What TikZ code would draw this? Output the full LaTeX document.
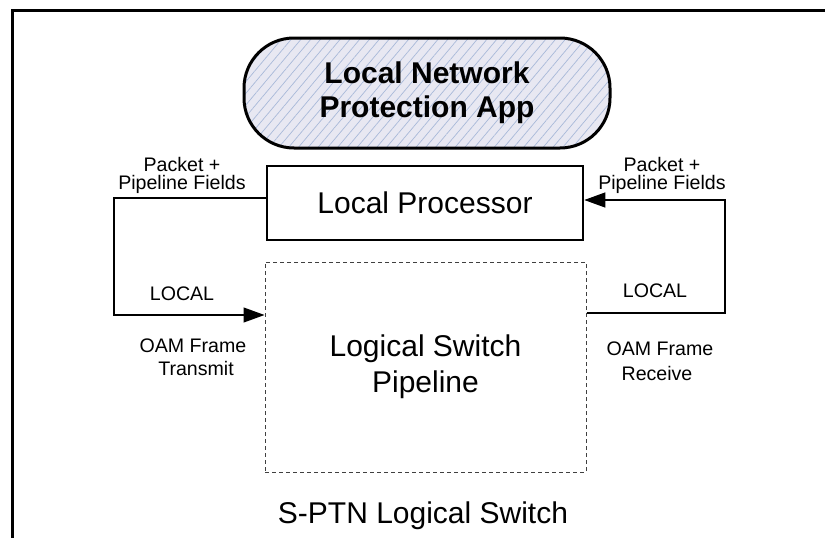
\documentclass[tikz,border=0pt]{standalone}
\usepackage{fontspec}
\setmainfont{Liberation Sans}
\usetikzlibrary{arrows.meta,patterns.meta}
\definecolor{lav}{HTML}{E8E8F2}
\definecolor{hatch}{HTML}{A9B9D9}
\definecolor{dashc}{HTML}{404040}
\tikzset{
  appbox/.style={draw=black, line width=3pt, rounded corners=50pt,
    preaction={fill=lav},
    pattern={Lines[angle=50,distance=7.5pt,line width=0.7pt]}, pattern color=hatch,
    minimum width=366pt, minimum height=110pt, align=center, inner sep=0pt,
    font=\fontsize{30}{34}\selectfont\bfseries},
  lpbox/.style={draw=black, line width=2.6pt, minimum width=316pt, minimum height=74pt,
    inner sep=0pt, font=\fontsize{30}{36}\selectfont},
  pipebox/.style={draw=dashc, line width=1pt, dash pattern=on 4pt off 3pt,
    minimum width=321pt, minimum height=210pt, align=center, inner sep=0pt,
    font=\fontsize{30}{36}\selectfont},
  lbl/.style={anchor=base, inner sep=0pt, font=\fontsize{19.6}{23}\selectfont},
  conn/.style={draw=black, line width=1.1pt},
  tip/.style={-{Triangle[length=21pt,width=15pt]}}
}
\begin{document}
\begin{tikzpicture}[x=1pt,y=-1pt]
\useasboundingbox (0,0) rectangle (825,538);
\clip (0,0) rectangle (825,538);
\fill[white] (0,0) rectangle (825,538);
% outer frame (extends beyond the page)
\draw[line width=3pt] (12,10) rectangle (840,560);

\node[appbox] (app) at (427,93) {Local Network\\Protection App};
\node[lpbox] (lp) at (425,203) {Local Processor};
\node[pipebox] (pipe) at (425.5,367) {Logical Switch\\Pipeline};

\coordinate (l1) at (114,198);
\coordinate (l2) at (114,315);
\coordinate (r1) at (725,313);
\coordinate (r2) at (725,200);
\draw[conn,tip] (lp.west |- l1) -- (l1) -- (l2) -- (pipe.west |- l2);
\draw[conn,tip] (pipe.east |- r1) -- (r1) -- (r2) -- (lp.east |- r2);

\node[lbl] (lpk) at (182,171) {Packet +};
\node[lbl] (lpf) at (182,189) {Pipeline Fields};
\node[lbl] (llo) at (182,300) {LOCAL};
\node[lbl] (loa) at (193,352) {OAM Frame};
\node[lbl] (ltr) at (196,375) {Transmit};

\node[lbl] (rpk) at (662,171) {Packet +};
\node[lbl] (rpf) at (662,189) {Pipeline Fields};
\node[lbl] (rlo) at (655,297) {LOCAL};
\node[lbl] (roa) at (660,355) {OAM Frame};
\node[lbl] (rre) at (657,380) {Receive};

\node[anchor=base, inner sep=0pt, font=\fontsize{30}{36}\selectfont] (title) at (423,523) {S-PTN Logical Switch};
\end{tikzpicture}
\end{document}
